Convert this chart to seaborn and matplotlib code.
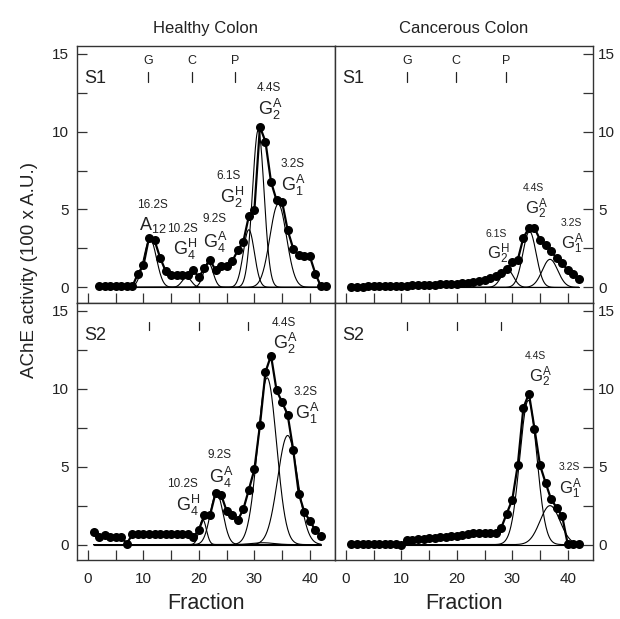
import numpy as np
import pandas as pd
import matplotlib
matplotlib.use("Agg")
import matplotlib.pyplot as plt
import seaborn as sns

# AChE activity per fraction
tl_frac = list(range(2, 44))
tl_act = [0.06, 0.06, 0.06, 0.06, 0.06, 0.06, 0.06, 0.88, 1.41, 3.19, 3.02, 1.91,
          1.05, 0.77, 0.77, 0.77, 0.77, 1.09, 0.66, 1.24, 1.78, 1.09, 1.35, 1.37,
          1.67, 2.38, 2.92, 4.57, 4.95, 10.31, 9.35, 6.77, 5.59, 5.49, 3.67, 2.49,
          2.06, 1.99, 1.99, 0.88, 0.06, 0.06]

tr_frac = list(range(1, 43))
tr_act = [0.05, 0.05, 0.05, 0.06, 0.06, 0.07, 0.08, 0.09, 0.10, 0.10, 0.12, 0.13,
          0.14, 0.15, 0.16, 0.18, 0.20, 0.21, 0.22, 0.24, 0.26, 0.30, 0.34, 0.40,
          0.47, 0.60, 0.75, 0.90, 1.15, 1.64, 1.79, 3.19, 3.81, 3.81, 3.06, 2.70,
          2.32, 1.87, 1.54, 1.11, 0.88, 0.51]

bl_frac = list(range(1, 43))
bl_act = [0.81, 0.49, 0.60, 0.49, 0.49, 0.49, 0.06, 0.66, 0.66, 0.66, 0.66, 0.66,
          0.66, 0.66, 0.66, 0.66, 0.66, 0.66, 0.49, 0.96, 1.88, 1.88, 3.31, 3.20,
          2.16, 1.88, 1.56, 2.26, 3.52, 4.82, 7.65, 11.07, 12.13, 9.89, 9.14, 8.33,
          6.09, 3.27, 2.10, 1.52, 0.92, 0.53]

br_frac = list(range(1, 43))
br_act = [0.06, 0.06, 0.06, 0.06, 0.06, 0.06, 0.06, 0.06, 0.06, 0.00, 0.30, 0.32,
          0.35, 0.38, 0.42, 0.45, 0.47, 0.50, 0.55, 0.55, 0.60, 0.70, 0.75, 0.75,
          0.75, 0.75, 0.75, 1.07, 1.99, 2.89, 5.13, 8.78, 9.68, 7.44, 5.09, 3.97,
          2.90, 2.37, 1.81, 0.02, 0.02, 0.02]

# gaussian components: (centre, height, sd)
tl_comp = [(11.2, 3.1, 1.15), (17.8, 0.65, 0.85), (21.7, 1.6, 0.85),
           (29.0, 3.7, 1.0), (30.7, 10.1, 1.05), (34.3, 5.35, 1.5)]
tr_comp = [(29.1, 1.15, 1.1), (33.1, 3.6, 1.2), (36.8, 1.8, 1.4)]
bl_comp = [(20.7, 1.6, 0.65), (23.2, 3.3, 1.15), (31.5, 0.12, 2.0),
           (32.3, 10.7, 1.7), (36.0, 7.0, 1.8)]
br_comp = [(32.9, 9.25, 1.55), (36.8, 2.5, 1.8)]

# peak labels: (x, y sedimentation, y form, sedimentation, form)
tl_lab = [(11.6, 5.27, 11.7, 4.0, "16.2S", r"$\mathrm{A}_{12}$"),
          (17.0, 3.73, 17.6, 2.45, "10.2S", r"$\mathrm{G}_{4}^{\mathrm{H}}$"),
          (22.9, 4.42, 23.0, 2.91, "9.2S", r"$\mathrm{G}_{4}^{\mathrm{A}}$"),
          (25.3, 7.14, 26.0, 5.8, "6.1S", r"$\mathrm{G}_{2}^{\mathrm{H}}$"),
          (32.6, 12.78, 32.9, 11.4, "4.4S", r"$\mathrm{G}_{2}^{\mathrm{A}}$"),
          (36.9, 7.9, 37.1, 6.56, "3.2S", r"$\mathrm{G}_{1}^{\mathrm{A}}$")]
tr_lab = [(27.1, 3.45, 27.5, 2.17, "6.1S", r"$\mathrm{G}_{2}^{\mathrm{H}}$"),
          (33.8, 6.35, 34.4, 5.06, "4.4S", r"$\mathrm{G}_{2}^{\mathrm{A}}$"),
          (40.7, 4.13, 40.9, 2.81, "3.2S", r"$\mathrm{G}_{1}^{\mathrm{A}}$")]
bl_lab = [(17.1, 3.9, 18.0, 2.52, "10.2S", r"$\mathrm{G}_{4}^{\mathrm{H}}$"),
          (23.7, 5.72, 24.0, 4.33, "9.2S", r"$\mathrm{G}_{4}^{\mathrm{A}}$"),
          (35.3, 14.2, 35.6, 12.9, "4.4S", r"$\mathrm{G}_{2}^{\mathrm{A}}$"),
          (39.2, 9.78, 39.5, 8.4, "3.2S", r"$\mathrm{G}_{1}^{\mathrm{A}}$")]
br_lab = [(34.1, 12.13, 35.0, 10.79, "4.4S", r"$\mathrm{G}_{2}^{\mathrm{A}}$"),
          (40.2, 4.97, 40.4, 3.59, "3.2S", r"$\mathrm{G}_{1}^{\mathrm{A}}$")]

# sedimentation markers (G, C, P)
tl_mark = [10.8, 18.7, 26.5]
tr_mark = [11.0, 19.9, 28.9]
bl_mark = [11.0, 19.95, 28.9]
br_mark = [11.1, 20.0, 28.0]
mark_names = ["G", "C", "P"]

sns.set_theme(style="ticks")
plt.rcParams['font.family'] = ['Liberation Sans', 'DejaVu Sans']
plt.rcParams['mathtext.fontset'] = 'custom'
plt.rcParams['mathtext.rm'] = 'Liberation Sans'
plt.rcParams['mathtext.it'] = 'Liberation Sans:italic'
plt.rcParams['mathtext.bf'] = 'Liberation Sans:bold'

fig, axes = plt.subplots(2, 2, figsize=(6.2, 6.19), dpi=100)
fig.subplots_adjust(left=0.124, right=0.956, top=0.926, bottom=0.095,
                    wspace=0, hspace=0)

panels = [
    (axes[0, 0], tl_frac, tl_act, tl_comp, tl_lab, tl_mark, "S1", True, 8.5, 13),
    (axes[0, 1], tr_frac, tr_act, tr_comp, tr_lab, tr_mark, "S1", True, 7.5, 12),
    (axes[1, 0], bl_frac, bl_act, bl_comp, bl_lab, bl_mark, "S2", False, 8.5, 13),
    (axes[1, 1], br_frac, br_act, br_comp, br_lab, br_mark, "S2", False, 7.5, 12),
]

for i, (ax, frac, act, comp, labs, marks, sname, top, fs_s, fs_b) in enumerate(panels):
    xs = np.linspace(min(frac), max(frac), 500)
    for mu, h, sd in comp:
        sns.lineplot(x=xs, y=h * np.exp(-0.5 * ((xs - mu) / sd) ** 2), ax=ax,
                     color='black', lw=0.8, estimator=None)
    ax.plot([min(frac), max(frac)], [0, 0], color='black', lw=0.8)
    df = pd.DataFrame({'Fraction': frac, 'Activity': act})
    sns.lineplot(data=df, x='Fraction', y='Activity', ax=ax, color='black',
                 lw=1.6, marker='o', markersize=6.5, markeredgewidth=0,
                 estimator=None)

    for xs_, ys_, xb, yb, sed, form in labs:
        ax.text(xs_, ys_, sed, ha='center', va='center', fontsize=fs_s, color='#222222')
        ax.text(xb, yb, form, ha='center', va='center', fontsize=fs_b, color='#222222')

    for m, name in zip(marks, mark_names):
        if top:
            ax.plot([m, m], [13.2, 13.85], color='#222222', lw=0.9)
            ax.text(m, 14.5, name, ha='center', va='center', fontsize=9, color='#222222')
        else:
            ax.plot([m, m], [13.74, 14.27], color='#222222', lw=0.9)

    ax.text(-0.6, 13.4, sname, ha='left', va='center', fontsize=13, color='#222222')

    ax.set_xlim(-2, 44.5)
    ax.set_ylim(-1, 15.5)
    ax.set_xticks(np.arange(0, 41, 5))
    ax.set_xticklabels(['0', '', '10', '', '20', '', '30', '', '40'])
    ax.set_yticks(np.arange(0, 15.1, 2.5))
    ax.set_yticklabels(['0', '', '5', '', '10', '', '15'])
    ax.set_xlabel('')
    ax.set_ylabel('')
    for sp in ax.spines.values():
        sp.set_visible(True)
        sp.set_color('#333333')
        sp.set_linewidth(1.0)
    ax.tick_params(direction='in', length=7, width=0.9, color='#333333',
                   labelsize=11, labelcolor='#222222')
    ax.tick_params(axis='x', top=False, bottom=True, labelbottom=not top, pad=8.5)
    if i % 2 == 0:
        ax.tick_params(axis='y', left=True, right=False, labelleft=True,
                       labelright=False, pad=5.5)
    else:
        ax.tick_params(axis='y', left=False, right=True, labelleft=False,
                       labelright=True, pad=4)
    if not top:
        ax.set_xlabel('Fraction', fontsize=15.5, color='#222222', labelpad=5)

axes[0, 0].set_title('Healthy Colon', fontsize=12, pad=9, color='#222222')
axes[0, 1].set_title('Cancerous Colon', fontsize=12, pad=9, color='#222222')
fig.text(0.048, 1 - 270 / 619, 'AChE activity (100 x A.U.)', rotation=90,
         ha='center', va='center', fontsize=13.5, color='#222222')

fig.savefig('out.png', dpi=100)
